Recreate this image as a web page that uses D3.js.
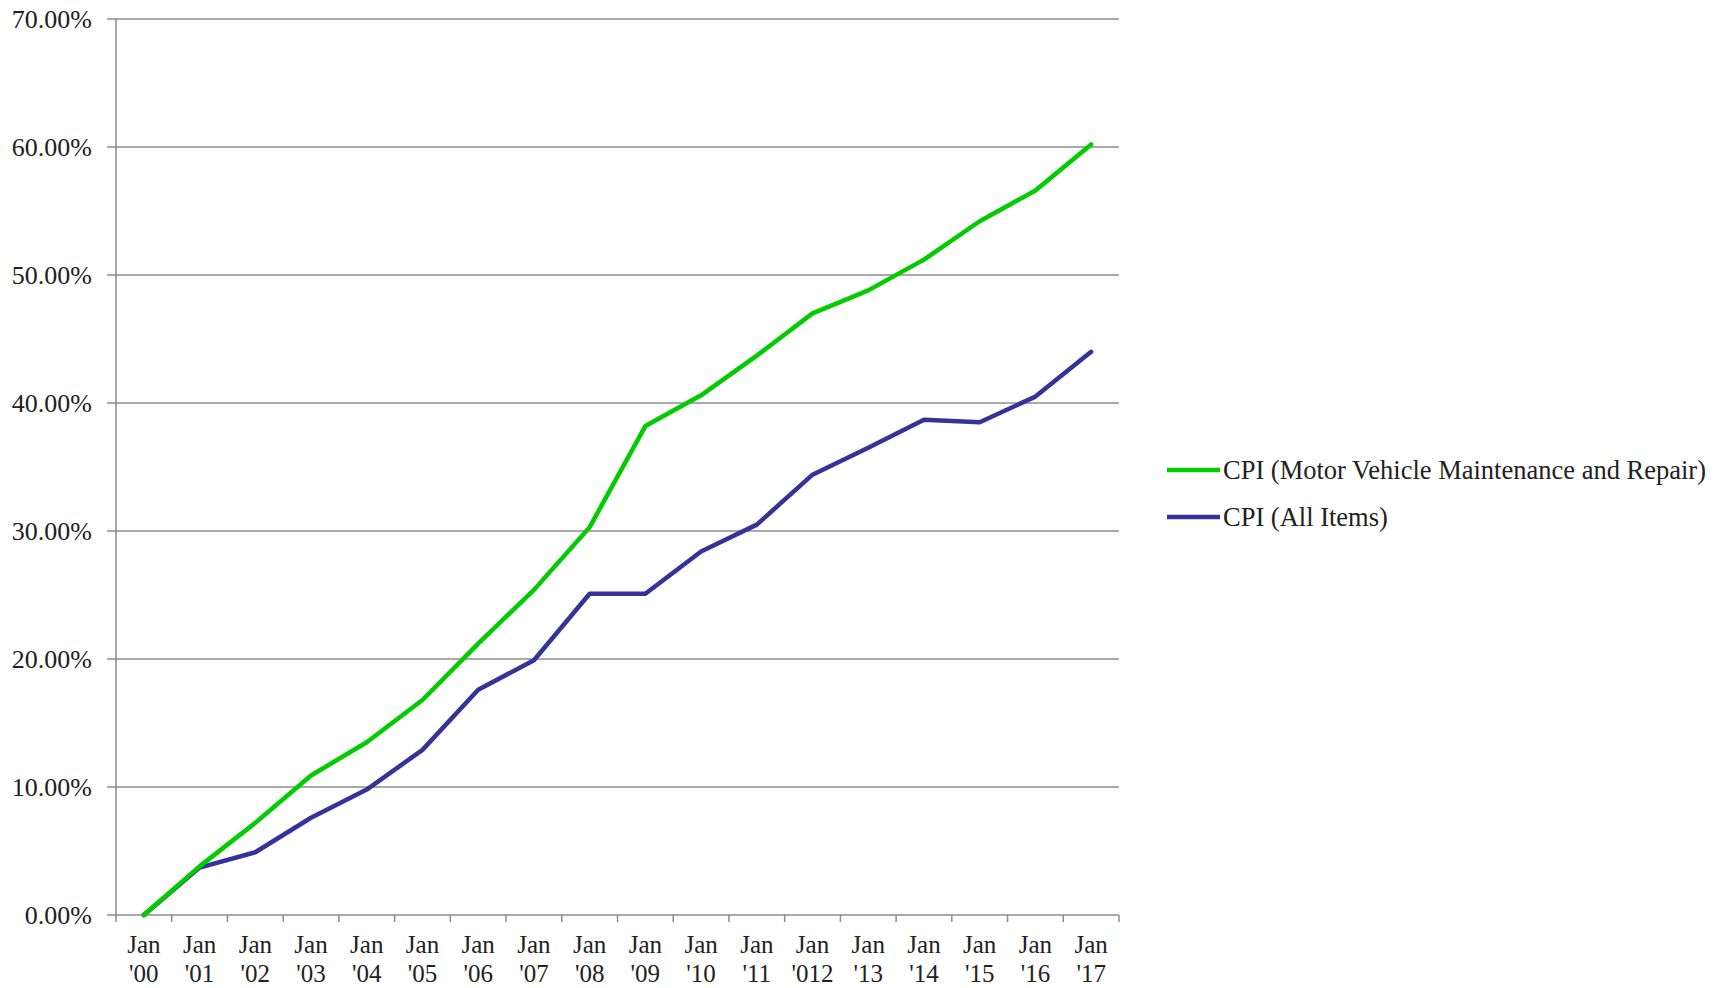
<!DOCTYPE html>
<html lang="en">
<head>
<meta charset="UTF-8">
<title>CPI chart</title>
<script src="https://d3js.org/d3.v7.min.js"></script>
<style>
  body { margin: 0; background: #fff; }
  text { font-family: "Liberation Serif", "Times New Roman", serif; fill: #222; }
</style>
</head>
<body>
<div id="chart"></div>
<script>

// categories (two-line x labels)
const years = ["'00", "'01", "'02", "'03", "'04", "'05", "'06", "'07", "'08",
  "'09", "'10", "'11", "'012", "'13", "'14", "'15", "'16", "'17"];

// series values, percent change since Jan 2000
const repair = [0, 3.8, 7.2, 10.9, 13.5, 16.8, 21.2, 25.4, 30.3, 38.2, 40.6,
  43.7, 47.0, 48.8, 51.2, 54.2, 56.6, 60.2];
const allItems = [0, 3.7, 4.9, 7.6, 9.8, 12.9, 17.6, 19.9, 25.1, 25.1, 28.4,
  30.5, 34.4, 36.5, 38.7, 38.5, 40.5, 44.0];

const yTicks = [0, 10, 20, 30, 40, 50, 60, 70];

const series = [
  { name: "CPI (Motor Vehicle Maintenance and Repair)", values: repair, color: "#00cc00" },
  { name: "CPI (All Items)", values: allItems, color: "#333399" }
];

const width = 1727, height = 988;
const margin = { top: 19, left: 116, right: 608, bottom: 73 };

const svg = d3.select("#chart").append("svg")
  .attr("width", width)
  .attr("height", height);

const x = d3.scaleBand()
  .domain(d3.range(years.length))
  .range([margin.left, width - margin.right]);

const y = d3.scaleLinear()
  .domain([0, 70])
  .range([height - margin.bottom, margin.top]);

// horizontal gridlines with small outside ticks
svg.append("g").selectAll("line")
  .data(yTicks)
  .join("line")
    .attr("x1", margin.left - 9)
    .attr("x2", width - margin.right)
    .attr("y1", d => y(d))
    .attr("y2", d => y(d))
    .attr("stroke", "#8c8c8c")
    .attr("stroke-width", 1.5);

// y labels
svg.append("g").selectAll("text")
  .data(yTicks)
  .join("text")
    .attr("x", 92)
    .attr("y", d => y(d))
    .attr("dy", "0.35em")
    .attr("text-anchor", "end")
    .style("font-size", "26px")
    .text(d => d3.format(".2f")(d) + "%");

// y axis line
svg.append("line")
  .attr("x1", margin.left).attr("x2", margin.left)
  .attr("y1", y(70)).attr("y2", y(0))
  .attr("stroke", "#8c8c8c").attr("stroke-width", 1.5);

// x ticks at band boundaries
const bounds = d3.range(years.length + 1).map(i => margin.left + i * x.step());
svg.append("g").selectAll("line")
  .data(bounds)
  .join("line")
    .attr("x1", d => d).attr("x2", d => d)
    .attr("y1", y(0)).attr("y2", y(0) + 7)
    .attr("stroke", "#8c8c8c").attr("stroke-width", 1.5);

// x labels
const xl = svg.append("g").selectAll("text")
  .data(years)
  .join("text")
    .attr("text-anchor", "middle")
    .style("font-size", "25px")
    .attr("transform", (d, i) => "translate(" + (x(i) + x.bandwidth() / 2) + ",0)");
xl.append("tspan").attr("x", 0).attr("y", 953).text("Jan");
xl.append("tspan").attr("x", 0).attr("y", 982).text(d => d);

// lines
const line = d3.line()
  .x((d, i) => x(i) + x.bandwidth() / 2)
  .y(d => y(d));

svg.append("g").selectAll("path")
  .data(series.slice().reverse())
  .join("path")
    .attr("d", d => line(d.values))
    .attr("fill", "none")
    .attr("stroke", d => d.color)
    .attr("stroke-width", 4.5)
    .attr("stroke-linejoin", "round")
    .attr("stroke-linecap", "round");

// legend
const leg = svg.append("g").selectAll("g")
  .data(series)
  .join("g")
    .attr("transform", (d, i) => "translate(1167," + (470 + i * 47) + ")");
leg.append("line")
  .attr("x1", 0).attr("x2", 53)
  .attr("stroke", d => d.color)
  .attr("stroke-width", 4.5);
leg.append("text")
  .attr("x", 56)
  .attr("dy", "0.35em")
  .style("font-size", "26.5px")
  .text(d => d.name);

</script>
</body>
</html>
